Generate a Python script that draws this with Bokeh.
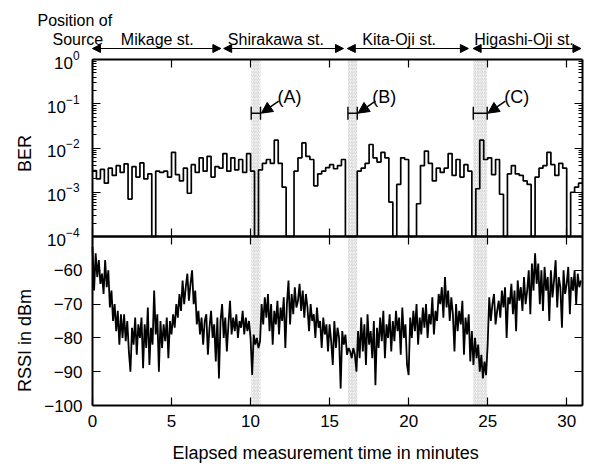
import math
import numpy as np
from bokeh.plotting import figure
from bokeh.models import (Range1d, LinearAxis, LogAxis, FixedTicker,
                          CustomJSTickFormatter, BoxAnnotation, Label, Arrow,
                          NormalHead, Whisker, TeeHead, ColumnDataSource)
from bokeh.embed import file_html
from bokeh.resources import INLINE

FONT = "Liberation Sans"

# ---------------- data ----------------
BER_T0 = 0.0          # minutes
BER_BIN = 0.25        # minutes per BER bin
BER = [3.1e-3, 2.0e-3, 3.3e-3, 1.6e-3, 3.5e-3, 2.4e-3, 4.0e-3, 2.8e-3, 4.4e-3, 7.0e-4,
       3.8e-3, 2.2e-3, 4.6e-3, 2.0e-3, 2.6e-3, 0, 3.0e-3, 2.8e-3, 3.0e-3, 2.2e-3,
       8.0e-3, 2.5e-3, 1.8e-3, 3.5e-3, 9.5e-4, 4.2e-3, 2.8e-3, 6.0e-3, 3.0e-3, 6.5e-3,
       2.2e-3, 3.8e-3, 3.5e-3, 7.5e-3, 3.0e-3, 6.0e-3, 3.2e-3, 5.5e-3, 2.8e-3, 7.5e-3,
       3.0e-3, 0, 3.2e-3, 4.5e-3, 5.5e-3, 4.5e-3, 1.5e-2, 4.5e-3, 1.3e-3, 0,
       0, 3.0e-3, 6.0e-3, 1.3e-2, 6.5e-3, 5.5e-3, 1.4e-3, 2.6e-3, 3.0e-3, 3.6e-3,
       4.2e-3, 3.4e-3, 4.0e-3, 5.5e-3, 0, 0, 0, 3.0e-3, 3.5e-3, 4.5e-3,
       1.2e-2, 6.0e-3, 4.8e-3, 8.0e-3, 6.0e-3, 6.0e-4, 0, 1.5e-3, 6.0e-3, 5.5e-3,
       0, 0, 5.5e-4, 4.0e-3, 8.5e-3, 4.5e-3, 1.8e-3, 3.5e-3, 2.8e-3, 3.5e-3,
       7.5e-3, 2.4e-3, 5.5e-3, 2.2e-3, 4.2e-3, 3.0e-3, 0, 1.2e-3, 1.5e-2, 5.5e-3,
       6.0e-3, 2.5e-3, 5.5e-3, 9.0e-4, 0, 2.6e-3, 4.0e-3, 2.6e-3, 2.4e-3, 1.8e-3,
       1.5e-3, 0, 2.2e-3, 3.5e-3, 4.0e-3, 8.0e-3, 4.2e-3, 2.4e-3, 4.5e-3, 3.5e-3,
       0, 1.0e-3, 1.3e-3, 1.6e-3]

RSSI_T0 = 0.0         # minutes
RSSI_DT = 0.1         # minutes per RSSI sample
RSSI = [
    -53, -66, -55, -62, -57, -64, -61, -67, -57, -65,
    -60, -71, -66, -75, -70, -78, -72, -82, -73, -80,
    -73, -81, -75, -84, -90, -77, -82, -74, -85, -76,
    -80, -74, -89, -76, -83, -71, -88, -77, -82, -66,
    -79, -73, -90, -75, -83, -76, -81, -74, -86, -75,
    -79, -73, -77, -70, -74, -67, -72, -63, -70, -65,
    -61, -69, -64, -60, -70, -66, -76, -72, -79, -74,
    -82, -75, -73, -85, -77, -72, -80, -76, -87, -74,
    -92, -75, -70, -80, -74, -84, -76, -69, -79, -74,
    -78, -73, -80, -75, -77, -72, -79, -74, -78, -75,
    -80, -91, -79, -82, -80, -83, -81, -70, -76, -68,
    -74, -67, -78, -70, -82, -72, -76, -69, -79, -71,
    -75, -68, -83, -70, -63, -76, -67, -73, -65, -71,
    -69, -64, -72, -66, -74, -67, -71, -78, -70, -75,
    -73, -80, -71, -77, -75, -83, -74, -79, -76, -84,
    -76, -81, -88, -75, -83, -77, -80, -95, -78, -82,
    -79, -85, -83, -84, -86, -83, -85, -90, -78, -86,
    -74, -84, -76, -88, -73, -82, -78, -86, -75, -94,
    -77, -83, -74, -81, -72, -86, -76, -80, -73, -84,
    -75, -81, -72, -78, -74, -85, -71, -80, -76, -88,
    -91, -74, -80, -72, -78, -70, -82, -74, -79, -71,
    -77, -70, -80, -73, -76, -68, -79, -72, -75, -67,
    -70, -65, -74, -62, -71, -66, -75, -68, -73, -84,
    -70, -78, -72, -76, -69, -85, -74, -79, -73, -87,
    -78, -88, -80, -86, -82, -90, -85, -92, -87, -91,
    -82, -68, -75, -70, -67, -76, -72, -69, -74, -66,
    -71, -65, -80, -68, -70, -64, -73, -66, -78, -63,
    -69, -65, -72, -62, -70, -66, -60, -73, -58, -66,
    -55, -64, -58, -70, -60, -72, -59, -66, -62, -75,
    -60, -68, -63, -57, -71, -62, -65, -77, -60, -67,
    -64, -59, -73, -62, -66, -60, -70, -61, -65, -63]

X_TICKS = [0, 5, 10, 15, 20, 25, 30]
RSSI_TICKS = [-100, -90, -80, -70, -60]
RSSI_TICK_LABELS = ["\u2212100", "\u221290", "\u221280", "\u221270", "\u221260"]
BER_TICKS = [1e-4, 1e-3, 1e-2, 1e-1, 1.0]

STATIONS = ["Mikage st.", "Shirakawa st.", "Kita-Oji st.", "Higashi-Oji st."]
STATION_START = [0.0, 8.3, 16.12, 24.08]
STATION_END = [8.12, 15.88, 23.78, 30.9]
STATION_LABEL_X = [4.1, 11.6, 19.4, 27.3]

MARK_NAMES = ["(A)", "(B)", "(C)"]
MARK_START = [10.04, 16.16, 24.09]
MARK_END = [10.63, 16.75, 24.97]
MARK_LABEL_X = [12.47, 18.46, 26.84]

# ---------------- layout geometry (pixels of the 591x465 canvas) ----------------
W, H = 591, 465
X_MIN, X_MAX = 0, 31
PX_X0, PX_X1 = 92, 582                 # screen x of 0 and 31 minutes
PX_TOP, PX_MID, PX_BOT = 59, 236, 405  # BER=1, BER=1e-4 / RSSI=-50, RSSI=-100
RSSI_LO, RSSI_HI = -100, -50
BER_LO, BER_HI = 1e-4, 1.0

px_per_min = (PX_X1 - PX_X0) / (X_MAX - X_MIN)
px_per_dec = (PX_MID - PX_TOP) / math.log10(BER_HI / BER_LO)
px_per_db = (PX_BOT - PX_MID) / (RSSI_HI - RSSI_LO)


def ber_at(px_above_top):
    """Value on the (log) y scale lying px_above_top pixels above the BER=1 line."""
    return BER_HI * 10 ** (px_above_top / px_per_dec)


def rssi_y(r):
    """Place an RSSI value (dBm) on the shared log-scaled y axis of the lower panel."""
    return BER_LO * 10 ** (-(RSSI_HI - np.asarray(r, dtype=float)) * px_per_db / px_per_dec)


x_lo = X_MIN - PX_X0 / px_per_min
x_hi = X_MAX + (W - PX_X1) / px_per_min
y_hi = ber_at(PX_TOP)
y_lo = ber_at(PX_TOP - H)

p = figure(width=W, height=H, x_range=Range1d(x_lo, x_hi), y_range=Range1d(y_lo, y_hi),
           x_axis_location=None, y_axis_location=None, y_axis_type="log",
           output_backend="svg", toolbar_location=None,
           min_border=0, min_border_left=0, min_border_right=0,
           min_border_top=0, min_border_bottom=0)
p.outline_line_color = None
p.xgrid.visible = False
p.ygrid.visible = False
p.background_fill_color = "white"
p.border_fill_color = "white"

blank = CustomJSTickFormatter(code="return ''")


def style(ax, labels=True, standoff=10):
    ax.axis_line_width = 2
    ax.axis_line_color = "black"
    ax.major_tick_in = 8
    ax.major_tick_out = 0
    ax.minor_tick_in = 4
    ax.minor_tick_out = 0
    ax.major_tick_line_width = 1.2
    ax.minor_tick_line_width = 1
    ax.major_label_text_font = FONT
    ax.major_label_text_font_size = "17px"
    ax.major_label_text_color = "black"
    ax.major_label_standoff = standoff
    if not labels:
        ax.formatter = blank
        ax.major_label_standoff = 0
    return ax


minor_ber = [m * 10 ** e for e in range(-4, 0) for m in range(2, 10)]
y_bottom = float(rssi_y(RSSI_LO))
y_mid = float(rssi_y(RSSI_HI))
rssi_tick_pos = [float(v) for v in rssi_y(RSSI_TICKS)]

# hatched bands (underlay)
for s, e in zip(MARK_START, MARK_END):
    p.add_layout(BoxAnnotation(left=s, right=e, top=BER_HI, bottom=y_bottom,
                               fill_alpha=0, line_color=None,
                               hatch_pattern="/", hatch_color="#b4b4b4",
                               hatch_scale=3.5, hatch_weight=0.7, level="underlay"))

# x axes (all drawn at fixed positions)
xt = FixedTicker(ticks=X_TICKS)
p.add_layout(style(LinearAxis(ticker=xt, fixed_location=y_bottom, bounds=(X_MIN, X_MAX)),
                   standoff=9), "below")
p.add_layout(style(LinearAxis(ticker=xt, fixed_location=y_mid, bounds=(X_MIN, X_MAX)),
                   labels=False), "below")
p.add_layout(style(LinearAxis(ticker=xt, fixed_location=y_mid, bounds=(X_MIN, X_MAX)),
                   labels=False), "above")
p.add_layout(style(LinearAxis(ticker=xt, fixed_location=BER_HI, bounds=(X_MIN, X_MAX)),
                   labels=False), "above")

# y axes: BER (log) in the upper panel
bt = FixedTicker(ticks=BER_TICKS, minor_ticks=minor_ber)
p.add_layout(style(LogAxis(ticker=bt, bounds=(BER_LO, BER_HI), fixed_location=X_MIN),
                   standoff=13), "left")
p.add_layout(style(LogAxis(ticker=bt, bounds=(BER_LO, BER_HI), fixed_location=X_MAX),
                   labels=False), "right")

# y axes: RSSI (dBm) in the lower panel
rt = FixedTicker(ticks=rssi_tick_pos)
rssi_fmt = CustomJSTickFormatter(args=dict(pos=rssi_tick_pos, labs=RSSI_TICK_LABELS),
                                 code="const i = pos.indexOf(tick); return i >= 0 ? labs[i] : '';")
ra = style(LinearAxis(ticker=rt, bounds=(y_bottom, y_mid), fixed_location=X_MIN), standoff=10)
ra.formatter = rssi_fmt
p.add_layout(ra, "left")
p.add_layout(style(LinearAxis(ticker=rt, bounds=(y_bottom, y_mid), fixed_location=X_MAX),
                   labels=False), "right")

# BER step trace (zero-error bins shown at the axis floor)
ber = np.maximum(np.array(BER, dtype=float), BER_LO)
t_edges = BER_T0 + BER_BIN * np.arange(len(BER) + 1)
p.step(t_edges, np.append(ber, ber[-1]), mode="after",
       line_color="black", line_width=1.7)

# RSSI trace
t_rssi = RSSI_T0 + RSSI_DT * np.arange(len(RSSI))
p.line(t_rssi, rssi_y(RSSI), line_color="black", line_width=1.8)

# markers (A), (B), (C)
y_bar = ber_at(-53.7)
wsrc = ColumnDataSource(dict(base=[y_bar] * 3, lower=MARK_START, upper=MARK_END))
p.add_layout(Whisker(source=wsrc, base="base", lower="lower", upper="upper",
                     dimension="width", line_width=1.4, line_color="black",
                     lower_head=TeeHead(size=13, line_width=1.4, line_color="black"),
                     upper_head=TeeHead(size=13, line_width=1.4, line_color="black")))
for name, e, lx in zip(MARK_NAMES, MARK_END, MARK_LABEL_X):
    p.add_layout(Arrow(x_start=e + 1.15, y_start=ber_at(-41.7),
                       x_end=e + 0.05, y_end=y_bar,
                       line_width=1.4, line_color="black",
                       end=NormalHead(size=11, fill_color="black", line_color="black")))
    p.add_layout(Label(x=lx, y=ber_at(-37), text=name,
                       text_align="center", text_baseline="alphabetic",
                       text_font=FONT, text_font_size="18px", text_color="black"))

# header: position of source
p.add_layout(Label(x=-3.48, y=ber_at(39), text="Position of",
                   text_align="left", text_baseline="alphabetic", text_color="black",
                   text_font=FONT, text_font_size="16px"))
p.add_layout(Label(x=-2.53, y=ber_at(20), text="Source",
                   text_align="left", text_baseline="alphabetic", text_color="black",
                   text_font=FONT, text_font_size="16px"))
for name, s, e, lx in zip(STATIONS, STATION_START, STATION_END, STATION_LABEL_X):
    p.add_layout(Label(x=lx, y=ber_at(20), text=name,
                       text_align="center", text_baseline="alphabetic", text_color="black",
                       text_font=FONT, text_font_size="16px"))
    p.add_layout(Arrow(x_start=s, x_end=e, y_start=ber_at(11), y_end=ber_at(11),
                       line_width=1.2, line_color="black",
                       start=NormalHead(size=8, fill_color="black", line_color="black"),
                       end=NormalHead(size=8, fill_color="black", line_color="black")))

# axis titles
p.add_layout(Label(x=-4.24, y=ber_at(-94), text="BER", text_color="black",
                   angle=math.pi / 2, text_align="center", text_baseline="middle",
                   text_font=FONT, text_font_size="18px"))
p.add_layout(Label(x=-4.24, y=float(rssi_y(-80.8)), text="RSSI in dBm", angle=math.pi / 2,
                   text_align="center", text_baseline="middle", text_color="black",
                   text_font=FONT, text_font_size="18px"))
p.add_layout(Label(x=14.75, y=float(rssi_y(-114.2)), text="Elapsed measurement time in minutes",
                   text_align="center", text_baseline="alphabetic", text_color="black",
                   text_font=FONT, text_font_size="18px"))

open("out.html", "w").write(file_html(p, INLINE))
